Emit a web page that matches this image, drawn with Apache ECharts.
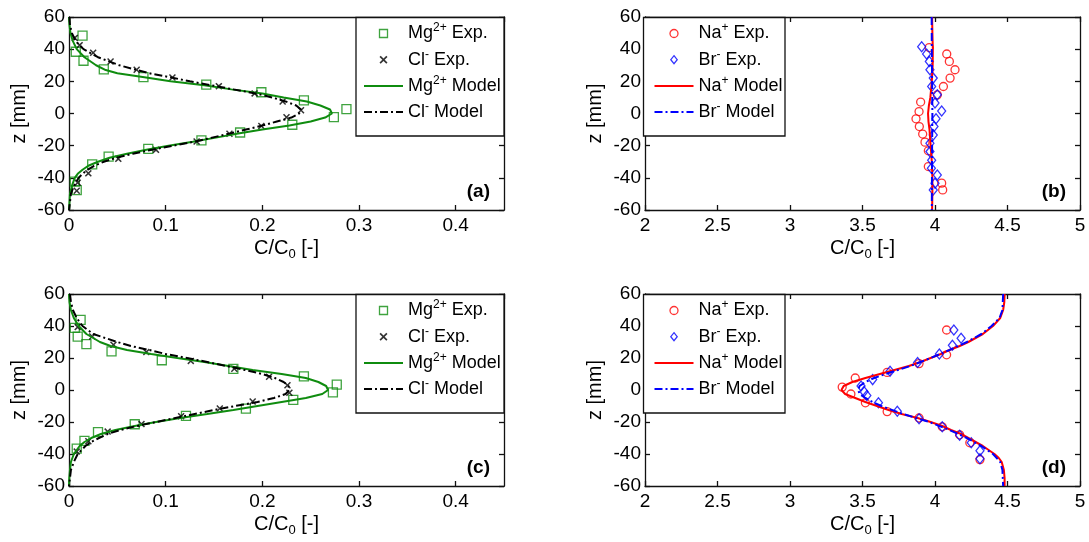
<!DOCTYPE html>
<html>
<head>
<meta charset="utf-8">
<script src="https://cdn.jsdelivr.net/npm/echarts@6/dist/echarts.min.js"></script>
<style>
html,body{margin:0;padding:0;background:#fff;}
#chart{width:1089px;height:542px;}
</style>
</head>
<body>
<div id="chart"></div>
<script>
// ---- axis ticks ----
const zTicks = [-60, -40, -20, 0, 20, 40, 60];
const mgClTicks = [0, 0.1, 0.2, 0.3, 0.4];
const naBrTicks = [2, 2.5, 3, 3.5, 4, 4.5, 5];

// ---- panel (a): [C/C0, z(mm)] ----
const mgExpA = [[0.014,48.4],[0.007,38.4],[0.015,32.8],[0.036,27.4],[0.077,22.6],[0.142,17.9],[0.199,13.2],[0.243,8.1],[0.287,2.7],[0.274,-2.3],[0.231,-7],[0.177,-11.8],[0.137,-16.7],[0.082,-22],[0.041,-26.8],[0.024,-31.6],[0.006,-42.3],[0.008,-47.7]];
const clExpA = [[0.006,47],[0.011,42.5],[0.025,37.8],[0.043,32.3],[0.070,27.2],[0.107,22.4],[0.155,17],[0.192,12.5],[0.221,7.5],[0.240,2],[0.225,-2.3],[0.199,-7.8],[0.166,-12.6],[0.132,-17.4],[0.090,-22.6],[0.051,-28.2],[0.020,-37.2],[0.009,-43],[0.008,-48]];
const mgModelA = [[0,60],[0.0005,55],[0.0015,50],[0.004,45],[0.008,40],[0.016,35],[0.028,30],[0.038,27],[0.05,25],[0.078,22.5],[0.105,20],[0.14,17.5],[0.168,15],[0.2,12.5],[0.222,10],[0.246,7.5],[0.26,5],[0.27,2.5],[0.272,0],[0.265,-2.5],[0.25,-5],[0.228,-7.5],[0.2,-10],[0.175,-12.5],[0.152,-15],[0.128,-17.5],[0.103,-20],[0.08,-22.5],[0.06,-25],[0.042,-27.5],[0.03,-30],[0.02,-32.5],[0.014,-35],[0.009,-37.5],[0.006,-40],[0.003,-45],[0.001,-50],[0.0005,-55],[0,-60]];
const clModelA = [[0.0005,60],[0.001,55],[0.003,50],[0.007,45],[0.015,40],[0.03,35],[0.052,30],[0.083,25],[0.105,22.5],[0.125,20],[0.17,15],[0.193,12.5],[0.21,10],[0.224,7.5],[0.235,5],[0.24,2.5],[0.238,0],[0.23,-2.5],[0.215,-5],[0.2,-7.5],[0.183,-10],[0.166,-12.5],[0.148,-15],[0.13,-17.5],[0.108,-20],[0.086,-22.5],[0.066,-25],[0.049,-27.5],[0.036,-30],[0.026,-32.5],[0.019,-35],[0.014,-37.5],[0.01,-40],[0.005,-45],[0.002,-50],[0.001,-55],[0,-60]];

// ---- panel (b) ----
const naExpB = [[3.96,41],[4.081,37],[4.099,32.4],[4.138,27.2],[4.104,22],[4.058,16.8],[4.016,11.6],[3.901,7.1],[3.89,1.2],[3.869,-3.3],[3.892,-8.1],[3.915,-12.8],[3.931,-17.8],[3.954,-23.2],[3.954,-33],[4.046,-43.3],[4.053,-47.5]];
const brExpB = [[3.908,41.5],[3.942,37],[3.961,32.4],[3.965,27.2],[3.988,22],[3.977,16.8],[4.016,11.6],[4.0,6.5],[4.046,1.5],[4.007,-3.3],[3.993,-8.1],[3.988,-13.3],[3.965,-18.5],[3.965,-23.7],[3.977,-29],[3.975,-34],[4.016,-38.2],[4.0,-43.3],[3.988,-47.5]];
const naModelB = [[3.98,60],[3.982,50],[3.985,40],[3.984,30],[3.978,20],[3.968,10],[3.958,5],[3.952,0],[3.955,-5],[3.962,-10],[3.97,-20],[3.978,-30],[3.982,-40],[3.982,-50],[3.98,-60]];
const brModelB = [[3.977,60],[3.978,40],[3.98,20],[3.982,0],[3.98,-20],[3.979,-40],[3.978,-60]];

// ---- panel (c) ----
const mgExpC = [[0.012,43.8],[0.006,38.8],[0.009,33.4],[0.018,28.7],[0.044,24.1],[0.096,18.6],[0.170,13.2],[0.243,8.5],[0.277,3.3],[0.273,-1.5],[0.232,-6.2],[0.183,-11.7],[0.121,-16.2],[0.068,-21.4],[0.030,-26.3],[0.016,-31.8],[0.008,-36.6]];
const clExpC = [[0.009,39.3],[0.024,33.4],[0.046,28.3],[0.080,23.7],[0.126,18.2],[0.171,13.3],[0.207,8.3],[0.226,3],[0.228,-1.7],[0.190,-7.2],[0.156,-11.6],[0.116,-16.4],[0.075,-21.3],[0.040,-26],[0.020,-32],[0.008,-38.5]];
const mgModelC = [[0,60],[0.0005,55],[0.002,50],[0.005,45],[0.01,40],[0.018,35],[0.032,30],[0.043,27.5],[0.06,25],[0.085,22.5],[0.112,20],[0.14,17.5],[0.165,15],[0.19,12.5],[0.22,10],[0.245,7.5],[0.258,5],[0.266,2.5],[0.268,0],[0.262,-2.5],[0.245,-5],[0.22,-7.5],[0.195,-10],[0.17,-12.5],[0.143,-15],[0.115,-17.5],[0.09,-20],[0.068,-22.5],[0.048,-25],[0.033,-27.5],[0.023,-30],[0.016,-32.5],[0.011,-35],[0.008,-37.5],[0.005,-40],[0.002,-45],[0.001,-50],[0.0003,-55],[0,-60]];
const clModelC = [[0.001,60],[0.002,55],[0.004,50],[0.008,45],[0.014,40],[0.025,35],[0.05,30],[0.064,27.5],[0.083,25],[0.1,22.5],[0.122,20],[0.143,17.5],[0.163,15],[0.182,12.5],[0.2,10],[0.213,7.5],[0.222,5],[0.227,2.5],[0.228,0],[0.224,-2.5],[0.212,-5],[0.195,-7.5],[0.172,-10],[0.15,-12.5],[0.13,-15],[0.11,-17.5],[0.09,-20],[0.07,-22.5],[0.053,-25],[0.04,-27.5],[0.031,-30],[0.023,-32.5],[0.017,-35],[0.013,-37.5],[0.009,-40],[0.005,-45],[0.002,-50],[0.001,-55],[0,-60]];

// ---- panel (d) ----
const naExpD = [[4.08,37.5],[4.08,22],[3.89,16.5],[3.67,11],[3.45,7.5],[3.36,1.8],[3.42,-2.5],[3.52,-8],[3.67,-13.5],[3.89,-17.5],[4.05,-23],[4.17,-28],[4.24,-33],[4.31,-43.5]];
const brExpD = [[4.13,37.5],[4.18,32.3],[4.12,28],[4.03,22.5],[3.88,17.2],[3.69,11.7],[3.57,6.5],[3.49,2.5],[3.51,-1],[3.53,-3.5],[3.61,-8],[3.74,-13.3],[3.89,-18],[4.05,-23],[4.17,-28.3],[4.25,-33],[4.31,-38],[4.31,-43]];
const naModelD = [[4.48,60],[4.478,55],[4.47,50],[4.45,45],[4.4,40],[4.33,35],[4.23,30],[4.17,27.5],[4.1,25],[4.04,22.5],[3.97,20],[3.9,17.5],[3.82,15],[3.72,12.5],[3.62,10],[3.52,7.5],[3.43,5],[3.37,2.5],[3.355,0],[3.38,-2.5],[3.45,-5],[3.52,-7.5],[3.6,-10],[3.68,-12.5],[3.77,-15],[3.88,-17.5],[3.97,-20],[4.05,-22.5],[4.11,-25],[4.18,-27.5],[4.23,-30],[4.28,-32.5],[4.33,-35],[4.37,-37.5],[4.41,-40],[4.44,-42.5],[4.46,-45],[4.475,-50],[4.48,-55],[4.48,-60]];
const brModelD = [[4.47,60],[4.465,50],[4.445,45],[4.39,40],[4.32,35],[4.22,30],[4.1,25],[3.97,20],[3.83,15],[3.66,10],[3.58,7.5],[3.52,5],[3.48,2.5],[3.47,0],[3.48,-2.5],[3.52,-5],[3.57,-7.5],[3.63,-10],[3.78,-15],[3.96,-20],[4.1,-25],[4.22,-30],[4.32,-35],[4.4,-40],[4.45,-45],[4.465,-50],[4.47,-60]];

// ---- styling ----
const FONT = '"Liberation Sans", Arial, sans-serif';
const GREEN = '#0f8c0f';
const RED = '#ff0000';
const BLUE = '#0000ff';
const BLACK = '#000000';
const DASHDOT = [8, 3, 2, 3];
const HOLLOW = 'rgba(0,0,0,0)';
// marker outlines as paths so legend icons keep their aspect ratio
const CROSS = 'path://M0,1.5L1.5,0L5,3.5L8.5,0L10,1.5L6.5,5L10,8.5L8.5,10L5,6.5L1.5,10L0,8.5L3.5,5Z';
const SQUARE = 'path://M0,0L10,0L10,10L0,10Z';
const RING = 'path://M10,5C10,7.76 7.76,10 5,10C2.24,10 0,7.76 0,5C0,2.24 2.24,0 5,0C7.76,0 10,2.24 10,5Z';
const RHOMB = 'path://M4,0L8,5L4,10L0,5Z';

const grids = [
  { left: 69,  top: 17,  width: 435, height: 193 },
  { left: 645, top: 17,  width: 435, height: 193 },
  { left: 69,  top: 294, width: 435, height: 192 },
  { left: 645, top: 294, width: 435, height: 192 }
];

const panels = [
  { letter: '(a)', xr: [0, 0.45, 0.1], ticks: mgClTicks, kind: 'mg', exp1: mgExpA, exp2: clExpA, mod1: mgModelA, mod2: clModelA, legendPad: 7 },
  { letter: '(b)', xr: [2, 5, 0.5], ticks: naBrTicks, kind: 'na', exp1: naExpB, exp2: brExpB, mod1: naModelB, mod2: brModelB, legendPad: 10 },
  { letter: '(c)', xr: [0, 0.45, 0.1], ticks: mgClTicks, kind: 'mg', exp1: mgExpC, exp2: clExpC, mod1: mgModelC, mod2: clModelC, legendPad: 7 },
  { letter: '(d)', xr: [2, 5, 0.5], ticks: naBrTicks, kind: 'na', exp1: naExpD, exp2: brExpD, mod1: naModelD, mod2: brModelD, legendPad: 10 }
];

const styles = {
  mg: {
    names: ['Mg2+ Exp.', 'Cl- Exp.', 'Mg2+ Model', 'Cl- Model'],
    exp1: { symbol: 'rect', icon: SQUARE, size: 9, color: GREEN },
    exp2: { symbol: CROSS, icon: CROSS, size: 7, color: BLACK, filled: true },
    mod1: { color: GREEN, type: 'solid' },
    mod2: { color: BLACK, type: DASHDOT }
  },
  na: {
    names: ['Na+ Exp.', 'Br- Exp.', 'Na+ Model', 'Br- Model'],
    exp1: { symbol: 'circle', icon: RING, size: 8, color: RED },
    exp2: { symbol: 'diamond', icon: RHOMB, size: [8, 10], color: BLUE },
    mod1: { color: RED, type: 'solid' },
    mod2: { color: BLUE, type: DASHDOT }
  }
};

const legendText = {
  'Mg2+ Exp.': '{t|Mg}{s|2+}{t| Exp.}',
  'Cl- Exp.': '{t|Cl}{s|-}{t| Exp.}',
  'Mg2+ Model': '{t|Mg}{s|2+}{t| Model}',
  'Cl- Model': '{t|Cl}{s|-}{t| Model}',
  'Na+ Exp.': '{t|Na}{s|+}{t| Exp.}',
  'Br- Exp.': '{t|Br}{s|-}{t| Exp.}',
  'Na+ Model': '{t|Na}{s|+}{t| Model}',
  'Br- Model': '{t|Br}{s|-}{t| Model}'
};

const xAxes = [], yAxes = [], series = [], legends = [], graphics = [];

const axisLineStyle = { color: '#111', width: 1.3 };
const tickLabel = { fontSize: 19, color: '#000', fontFamily: FONT };

panels.forEach((p, g) => {
  const [xmin, xmax, xint] = p.xr;
  const st = styles[p.kind];
  const gr = grids[g];

  xAxes.push({
    type: 'value', gridIndex: g, position: 'bottom', min: xmin, max: xmax, interval: xint,
    axisLine: { show: true, onZero: false, lineStyle: axisLineStyle },
    axisTick: { show: true, inside: true, length: 5, lineStyle: axisLineStyle },
    axisLabel: Object.assign({ margin: 6, showMaxLabel: xmax === p.ticks[p.ticks.length - 1],
      formatter: v => (p.ticks.some(t => Math.abs(t - v) < 1e-9) ? String(+v.toFixed(2)) : '') }, tickLabel),
    splitLine: { show: false },
    name: '{t|C/C}{u|0}{t| [-]}', nameLocation: 'middle', nameGap: 25,
    nameTextStyle: { rich: {
      t: { fontSize: 20, fontFamily: FONT, color: '#000', lineHeight: 26 },
      u: { fontSize: 13, fontFamily: FONT, color: '#000', lineHeight: 13, verticalAlign: 'bottom' }
    } }
  });
  xAxes.push({
    type: 'value', gridIndex: g, position: 'top', min: xmin, max: xmax, interval: xint,
    axisLine: { show: true, onZero: false, lineStyle: axisLineStyle },
    axisTick: { show: true, inside: true, length: 5, lineStyle: axisLineStyle },
    axisLabel: { show: false }, splitLine: { show: false }
  });
  yAxes.push({
    type: 'value', gridIndex: g, position: 'left', min: zTicks[0], max: zTicks[zTicks.length - 1], interval: 20,
    axisLine: { show: true, onZero: false, lineStyle: axisLineStyle },
    axisTick: { show: true, inside: true, length: 5, lineStyle: axisLineStyle },
    axisLabel: Object.assign({ margin: 4 }, tickLabel),
    splitLine: { show: false },
    name: 'z [mm]', nameLocation: 'middle', nameGap: 40,
    nameTextStyle: { fontSize: 20, fontFamily: FONT, color: '#000' }
  });
  yAxes.push({
    type: 'value', gridIndex: g, position: 'right', min: zTicks[0], max: zTicks[zTicks.length - 1], interval: 20,
    axisLine: { show: true, onZero: false, lineStyle: axisLineStyle },
    axisTick: { show: true, inside: true, length: 5, lineStyle: axisLineStyle },
    axisLabel: { show: false }, splitLine: { show: false }
  });

  const ax = { xAxisIndex: 2 * g, yAxisIndex: 2 * g };
  const expStyle = e => e.filled
    ? { color: e.color }
    : { color: HOLLOW, borderColor: e.color, borderWidth: 1.3 };

  series.push(Object.assign({ type: 'scatter', name: st.names[0], data: p.exp1,
    symbol: st.exp1.symbol, symbolSize: st.exp1.size, itemStyle: expStyle(st.exp1), silent: true }, ax));
  series.push(Object.assign({ type: 'scatter', name: st.names[1], data: p.exp2,
    symbol: st.exp2.symbol, symbolSize: st.exp2.size, itemStyle: expStyle(st.exp2), silent: true }, ax));
  series.push(Object.assign({ type: 'line', name: st.names[2], data: p.mod1, symbol: 'none',
    lineStyle: { color: st.mod1.color, width: 2, type: st.mod1.type }, itemStyle: { color: st.mod1.color }, silent: true }, ax));
  series.push(Object.assign({ type: 'line', name: st.names[3], data: p.mod2, symbol: 'none',
    lineStyle: { color: st.mod2.color, width: 2, type: st.mod2.type }, itemStyle: { color: st.mod2.color }, silent: true }, ax));

  // legend box
  const boxLeft = p.kind === 'mg' ? 356 : gr.left - 1.5;
  const boxRight = p.kind === 'mg' ? gr.left + gr.width : 785;
  graphics.push({
    type: 'rect', z: 3,
    shape: { x: boxLeft, y: gr.top + 0.5, width: boxRight - boxLeft, height: 118.5 },
    style: { fill: '#fff', stroke: '#111', lineWidth: 1.3 }
  });
  const markerItem = (name, e) => ({ name, icon: e.icon, itemStyle: expStyle(e) });
  const noDot = { color: HOLLOW, borderColor: HOLLOW, borderWidth: 0 };
  legends.push({
    orient: 'vertical', left: boxLeft, top: gr.top + 1, z: 4,
    padding: [4, 0, 0, p.legendPad], itemGap: 5.7, itemWidth: 39, itemHeight: 8,
    selectedMode: false, symbolKeepAspect: true,
    data: [
      markerItem(st.names[0], st.exp1),
      markerItem(st.names[1], st.exp2),
      { name: st.names[2], itemStyle: noDot, lineStyle: { color: st.mod1.color, width: 2, type: st.mod1.type } },
      { name: st.names[3], itemStyle: noDot, lineStyle: { color: st.mod2.color, width: 2, type: st.mod2.type } }
    ],
    formatter: n => legendText[n],
    textStyle: { rich: {
      t: { fontSize: 18, fontFamily: FONT, color: '#000', lineHeight: 23 },
      s: { fontSize: 12, fontFamily: FONT, color: '#000', lineHeight: 12, verticalAlign: 'top' }
    } }
  });

  // panel letter
  graphics.push({
    type: 'text', z: 5,
    style: { text: p.letter, x: gr.left + gr.width - 14, y: gr.top + gr.height - 18,
      align: 'right', verticalAlign: 'middle',
      font: 'bold 19px "Liberation Sans", Arial, sans-serif', fill: '#000' }
  });
});

const chart = echarts.init(document.getElementById('chart'), null, { renderer: 'canvas' });
chart.setOption({
  animation: false,
  backgroundColor: '#fff',
  grid: grids.map(g => Object.assign({ outerBoundsMode: 'none', containLabel: false }, g)),
  xAxis: xAxes,
  yAxis: yAxes,
  legend: legends,
  series: series,
  graphic: graphics
});
</script>
</body>
</html>
